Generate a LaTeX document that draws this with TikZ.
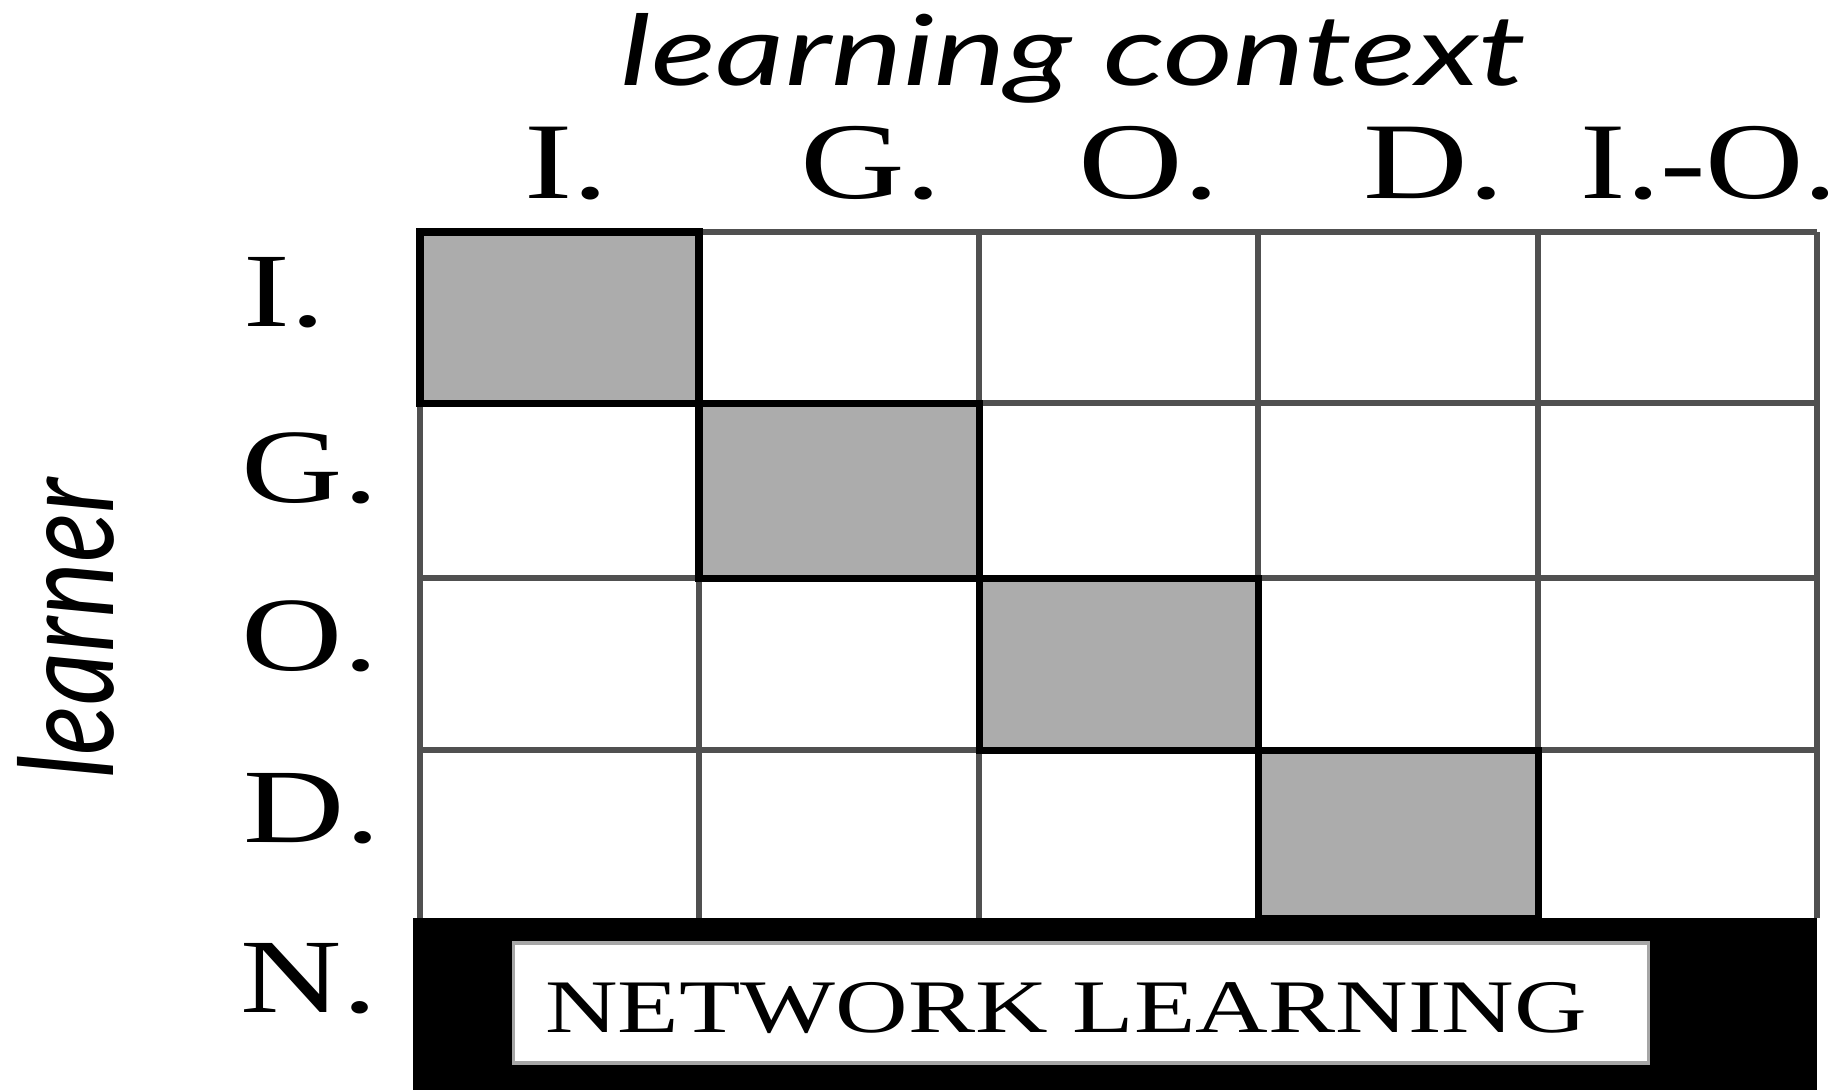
\documentclass[tikz,border=0pt]{standalone}
\usepackage{fontspec}
\setmainfont{Liberation Serif}
\newfontfamily\slantfont{Lato}
\usetikzlibrary{positioning}
\definecolor{CellGray}{RGB}{172,172,172}
\definecolor{RuleGray}{RGB}{80,80,80}
\newcommand{\wtxt}[1]{\scalebox{1.33}[1]{#1}}
\tikzset{
  rule/.style={draw=RuleGray, line width=1.5pt},
  hilite/.style={draw=black, line width=2pt},
  collbl/.style={anchor=base west, inner sep=0pt, font=\fontsize{31}{31}\selectfont},
  rowlbl/.style={anchor=base west, inner sep=0pt, font=\fontsize{30}{30}\selectfont},
  axislbl/.style={anchor=base west, inner sep=0pt, font=\slantfont\itshape},
  netbox/.style={rectangle, fill=white, draw=black!35, line width=1pt, inner sep=0pt,
                 minimum width=11.34cm, minimum height=1.2cm},
  netlbl/.style={anchor=base, inner sep=0pt, font=\fontsize{21.5}{21.5}\selectfont},
}

\begin{document}
\begin{tikzpicture}[x=0.01cm, y=-0.01cm]
  \useasboundingbox (0,0) rectangle (1843,1090);

  % diagonal cells
  \fill[CellGray] (420,232) rectangle (699,403);
  \fill[CellGray] (699,403) rectangle (979,578);
  \fill[CellGray] (979,578) rectangle (1258,750);
  \fill[CellGray] (1258,750) rectangle (1538,918);

  % grid
  \foreach \x in {420,699,979,1258,1538,1817}
    \draw[rule] (\x,232) -- (\x,918);
  \foreach \y in {232,403,578,750}
    \draw[rule] (420,\y) -- (1817,\y);
  \foreach \xa/\ya/\xb/\yb in {420/232/699/403, 699/403/979/578,
                               979/578/1258/750, 1258/750/1538/918}
    \draw[hilite] (\xa,\ya) rectangle (\xb,\yb);

  % network row
  \fill[black] (413,918) rectangle (1817,1090);
  \node[netbox] (net) at (1081,1003) {};
  \node[netlbl] (netl) at (1066,1032) {\wtxt{NETWORK LEARNING}};

  % axis titles
  \node[axislbl] (ctx) at (620,85)
       {\resizebox{9.05cm}{0.72cm}{learning context}};
  \node[axislbl, rotate=90] (lrn) at (113,779)
       {\resizebox{3.0cm}{0.96cm}{learner}};

  % column labels
  \node[collbl] (cI)  at (524,198)  {\wtxt{I.}};
  \node[collbl] (cG)  at (800,198)  {\wtxt{G.}};
  \node[collbl] (cO)  at (1078,198) {\wtxt{O.}};
  \node[collbl] (cD)  at (1363,198) {\wtxt{D.}};
  \node[collbl] (cIO) at (1580,198) {\scalebox{1.25}[1]{I.-O.}};

  % row labels
  \node[rowlbl] (rI) at (243,326)  {\wtxt{I.}};
  \node[rowlbl] (rG) at (241,502)  {\wtxt{G.}};
  \node[rowlbl] (rO) at (241,670)  {\wtxt{O.}};
  \node[rowlbl] (rD) at (243,842)  {\wtxt{D.}};
  \node[rowlbl] (rN) at (240,1012) {\wtxt{N.}};
\end{tikzpicture}
\end{document}
